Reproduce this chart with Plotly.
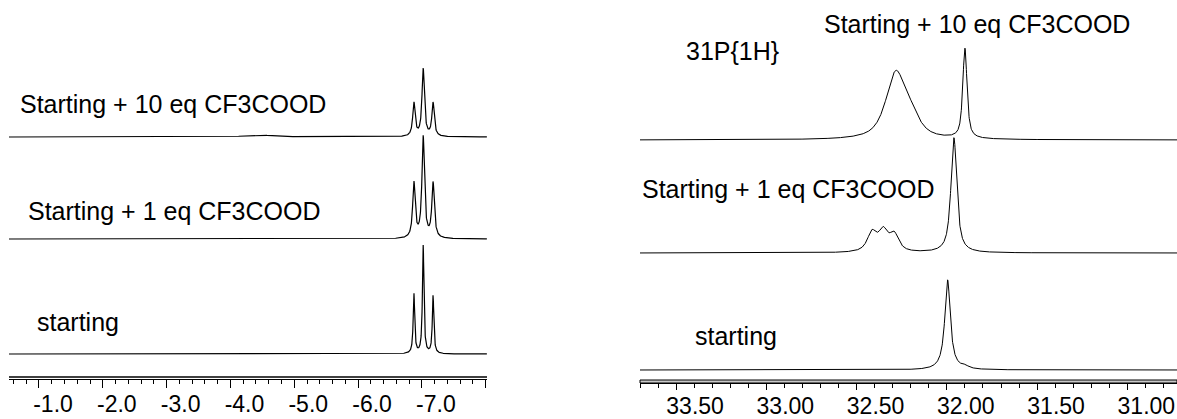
import numpy as np
import plotly.graph_objects as go

W, H = 1177, 419

# ---- 1H spectra (hydride region), chemical shifts in ppm ----
H_START_SHIFT = [-6.875, -7.020, -7.175]
H_START_INT = [60, 108, 58]
H_START_FWHM = [0.028, 0.028, 0.028]

H_1EQ_SHIFT = [-6.875, -7.020, -7.175]
H_1EQ_INT = [55, 101, 55]
H_1EQ_FWHM = [0.047, 0.047, 0.047]

H_10EQ_SHIFT = [-4.45, -6.875, -7.020, -7.175]
H_10EQ_INT = [2, 33.5, 67.5, 33.5]
H_10EQ_FWHM = [0.5, 0.045, 0.045, 0.045]

H_TICKS = [-1.0, -2.0, -3.0, -4.0, -5.0, -6.0, -7.0, -8.0]
H_TICKTEXT = ["-1.0", "-2.0", "-3.0", "-4.0", "-5.0", "-6.0", "-7.0", ""]

# ---- 31P{1H} spectra ----
P_START_SHIFT = [31.996, 31.900]
P_START_INT = [90, 2.5]
P_START_FWHM = [0.037, 0.05]

P_1EQ_SHIFT = [32.415, 32.353, 32.292, 31.961]
P_1EQ_INT = [19, 20, 17, 115]
P_1EQ_FWHM = [0.061, 0.061, 0.061, 0.039]

P_10EQ_SHIFT = [32.284, 32.200, 31.900]
P_10EQ_INT = [64, 17, 90]
P_10EQ_FWHM = [0.13, 0.12, 0.028]

P_TICKS = [33.5, 33.0, 32.5, 32.0, 31.5, 31.0]
P_TICKTEXT = ["33.50", "33.00", "32.50", "32.00", "31.50", "31.00"]

LABELS = ["starting", "Starting + 1 eq CF3COOD", "Starting + 10 eq CF3COOD"]


def line_shape(x, shifts, ints, fwhm, eta=1.0):
    """Sum of pseudo-Voigt lines (eta = Lorentzian fraction)."""
    y = np.zeros_like(x)
    for c, a, w in zip(shifts, ints, fwhm):
        u = 2.0 * (x - c) / w
        lor = 1.0 / (1.0 + u ** 2)
        gau = np.exp(-np.log(2.0) * u ** 2)
        y += a * (eta * lor + (1.0 - eta) * gau)
    return y


FONT = "Arial, Liberation Sans, sans-serif"

fig = go.Figure()

# vertical stacking offsets (baseline heights) of each spectrum
h_x = np.arange(-0.53, -8.02, -0.002)
h_sets = [(H_START_SHIFT, H_START_INT, H_START_FWHM, 65),
          (H_1EQ_SHIFT, H_1EQ_INT, H_1EQ_FWHM, 180),
          (H_10EQ_SHIFT, H_10EQ_INT, H_10EQ_FWHM, 282)]
for name, (s, a, w, off) in zip(LABELS, h_sets):
    fig.add_trace(go.Scatter(x=h_x, y=off + line_shape(h_x, s, a, w), mode="lines",
                             line=dict(color="black", width=1.2), name=name,
                             xaxis="x", yaxis="y", showlegend=False))

p_x = np.arange(33.70, 30.72, -0.001)
p_sets = [(P_START_SHIFT, P_START_INT, P_START_FWHM, 49, 1.0),
          (P_1EQ_SHIFT, P_1EQ_INT, P_1EQ_FWHM, 166, 0.85),
          (P_10EQ_SHIFT, P_10EQ_INT, P_10EQ_FWHM, 279, 0.75)]
for name, (s, a, w, off, eta) in zip(LABELS, p_sets):
    fig.add_trace(go.Scatter(x=p_x, y=off + line_shape(p_x, s, a, w, eta), mode="lines",
                             line=dict(color="black", width=1), name=name,
                             xaxis="x2", yaxis="y2", showlegend=False))

tick_common = dict(showline=True, linecolor="black", linewidth=1, ticks="outside",
                   tickcolor="black", tickwidth=1, showgrid=False, zeroline=False,
                   tickmode="array", anchor="free", automargin=False,
                   ticklabelstandoff=-4,
                   tickfont=dict(family=FONT, size=23, color="black"))

fig.update_layout(
    template="none",
    width=W, height=H, margin=dict(l=0, r=0, t=0, b=0, pad=0),
    paper_bgcolor="white", plot_bgcolor="white",
    xaxis=dict(domain=[9 / W, 487 / W], range=[-0.53, -8.02], position=1 - 379 / H,
               tickvals=H_TICKS, ticktext=H_TICKTEXT, ticklen=8, ticklabelshift=-14,
               minor=dict(ticks="outside", ticklen=4, tickcolor="black",
                          tickmode="linear", tick0=0, dtick=0.2),
               **tick_common),
    yaxis=dict(domain=[0, 1], range=[0, H], visible=False, anchor="x", automargin=False),
    xaxis2=dict(domain=[640 / W, 1], range=[33.70, 30.725], position=1 - 383 / H,
                tickvals=P_TICKS, ticktext=P_TICKTEXT, ticklen=6, ticklabelshift=-19,
                minor=dict(ticks="outside", ticklen=4, tickcolor="black",
                           tickmode="linear", tick0=0, dtick=0.1),
                **tick_common),
    yaxis2=dict(domain=[0, 1], range=[0, H], visible=False, anchor="x2", automargin=False),
)

# doubled base rules under each spectrum stack
fig.add_shape(type="line", xref="paper", yref="paper", x0=9 / W, x1=487 / W,
              y0=1 - 377 / H, y1=1 - 377 / H, line=dict(color="black", width=1.5))
fig.add_shape(type="rect", xref="paper", yref="paper", x0=640 / W, x1=1,
              y0=1 - 383 / H, y1=1 - 380 / H, fillcolor="#c8c8c8",
              line=dict(color="black", width=1))


def label(text, x_px, y_px):
    fig.add_annotation(text=text, xref="paper", yref="paper", x=x_px / W, y=1 - y_px / H,
                       xanchor="left", yanchor="middle", showarrow=False,
                       font=dict(family=FONT, size=25, color="black"))


label("Starting + 10 eq CF3COOD", 18, 104)
label("Starting + 1 eq CF3COOD", 26, 211)
label("starting", 35, 322)
label("31P{1H}", 684, 51)
label("Starting + 10 eq CF3COOD", 822, 24)
label("Starting + 1 eq CF3COOD", 640, 189)
label("starting", 693, 336)

fig.write_html("out.html")
